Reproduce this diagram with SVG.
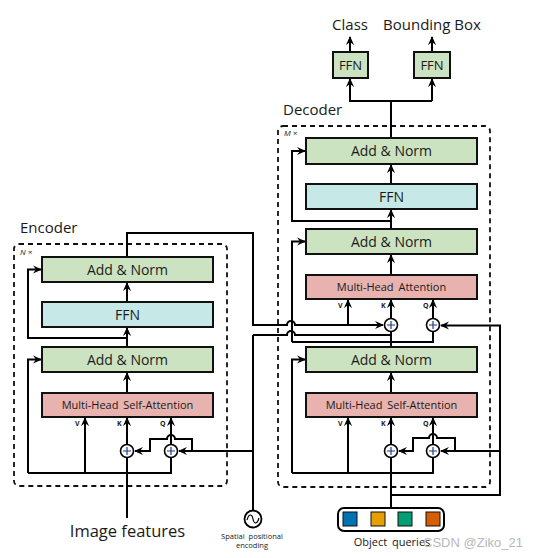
<svg xmlns="http://www.w3.org/2000/svg" width="535" height="558" viewBox="0 0 535 558">
<defs>
<marker id="ah" viewBox="0 0 10 10" refX="9" refY="5" markerWidth="9" markerHeight="9" markerUnits="userSpaceOnUse" orient="auto">
<path d="M0,0.5 L10,5 L0,9.5 L3.5,5 Z" fill="#000"/>
</marker>
<style>
text{font-family:"Open Sans","Noto Sans","DejaVu Sans",sans-serif;fill:#1a1a1a}
.box{stroke:#111;stroke-width:2}
.an{fill:#cce3c2}
.ffn{fill:#c6e9e7}
.att{fill:#e8b3ae}
.lbl{font-size:14px;text-anchor:middle}
.alb{font-size:11px;text-anchor:middle}
.ttl{font-size:15px}
.ln{fill:none;stroke:#000;stroke-width:2}
.ar{fill:none;stroke:#000;stroke-width:2;marker-end:url(#ah)}
.dash{fill:none;stroke:#111;stroke-width:1.8;stroke-dasharray:5,4}
.plus{fill:#fff;stroke:#000;stroke-width:1.6}
.pl{stroke:#1f3a8a;stroke-width:1.2}
.vkq{font-size:7px;font-weight:bold}
</style>
</defs>
<rect width="535" height="558" fill="#fff"/>

<!-- titles -->
<text class="ttl" x="20" y="233">Encoder</text>
<text class="ttl" x="283" y="115">Decoder</text>
<text class="ttl" x="350" y="30" text-anchor="middle">Class</text>
<text class="ttl" x="432" y="30" text-anchor="middle">Bounding Box</text>

<!-- dashed repeat boxes -->
<g id="encoder-frame">
<rect class="dash" x="14" y="244" width="213" height="242" rx="5"/>
<text x="20" y="255" font-size="8" font-style="italic" font-family="Liberation Serif,serif">N ×</text>
</g>
<g id="decoder-frame">
<rect class="dash" x="278" y="126" width="212" height="361" rx="5"/>
<text x="284" y="136" font-size="8" font-style="italic" font-family="Liberation Serif,serif">M ×</text>
</g>

<!-- connectors -->
<g id="connectors">
<!-- encoder -->
<path class="ln" d="M127,518 V458"/>
<path class="ar" d="M127,444 V418"/>
<path class="ln" d="M28,473 H171 V458"/>
<path class="ar" d="M85,473 V418"/>
<path class="ar" d="M28,473 V359.5 H41"/>
<path class="ar" d="M171,444 V418"/>
<path class="ln" d="M253,510 V335"/>
<path class="ar" d="M253,451 H179"/>
<path class="ar" d="M192,451 V439 H175 A4,4 0 0 0 167,439 H150 V451 H135"/>
<path class="ar" d="M127,393 V373"/>
<path class="ar" d="M127,347 V328"/>
<path class="ar" d="M127,338 H28 V269.5 H41"/>
<path class="ar" d="M127,302 V283"/>
<!-- encoder memory & pos enc to decoder -->
<path class="ar" d="M127,257 V233 H253 V325 H287 A4,4 0 0 1 295,325 H383"/>
<path class="ln" d="M253,335 H287 A4,4 0 0 1 295,335 H391 V332"/>
<!-- decoder cross attention -->
<path class="ar" d="M348,325 V300"/>
<path class="ar" d="M391,318 V300"/>
<path class="ar" d="M433,318 V300"/>
<path class="ln" d="M391,347 V335"/>
<path class="ln" d="M292,342 H433 V332"/>
<path class="ar" d="M292,342 V241.5 H305"/>
<path class="ar" d="M391,275 V255"/>
<path class="ar" d="M391,229 V210"/>
<path class="ar" d="M391,221 H292 V151 H305"/>
<path class="ar" d="M391,184 V165"/>
<path class="ln" d="M391,138 V101 H432"/>
<path class="ar" d="M432,101 V79"/>
<path class="ar" d="M391,101 H350 V79"/>
<path class="ar" d="M350,52 V37"/>
<path class="ar" d="M432,52 V37"/>
<!-- decoder self attention -->
<path class="ar" d="M391,508 V495 H500 V325.5 H441"/>
<path class="ar" d="M500,451 H441"/>
<path class="ar" d="M455,451 V438 H437 A4,4 0 0 0 429,438 H413 V451 H399"/>
<path class="ln" d="M391,495 V458"/>
<path class="ar" d="M391,444 V418"/>
<path class="ar" d="M433,444 V418"/>
<path class="ln" d="M292,473 H433 V458"/>
<path class="ar" d="M348,473 V418"/>
<path class="ar" d="M292,473 V359.5 H305"/>
<path class="ar" d="M391,393 V373"/>
</g>

<!-- encoder nodes -->
<g id="enc-addnorm-top"><rect class="box an" x="42" y="257" width="171" height="25"/><text class="lbl" x="127.5" y="274.5">Add &amp; Norm</text></g>
<g id="enc-ffn"><rect class="box ffn" x="42" y="302" width="171" height="25"/><text class="lbl" x="127.5" y="319.5">FFN</text></g>
<g id="enc-addnorm-bottom"><rect class="box an" x="42" y="347" width="171" height="25"/><text class="lbl" x="127.5" y="364.5">Add &amp; Norm</text></g>
<g id="enc-mhsa"><rect class="box att" x="42" y="393" width="171" height="24"/><text class="alb" x="127.5" y="409" word-spacing="2">Multi-Head Self-Attention</text></g>
<g id="enc-vkq">
<text class="vkq" x="75" y="426" fill="#2b3a7a">V</text>
<text class="vkq" x="117" y="426" fill="#3466a8">K</text>
<text class="vkq" x="160" y="426" fill="#7a5a3a">Q</text>
</g>
<g id="enc-plus-k"><circle class="plus" cx="127" cy="451" r="6.5"/><path class="pl" d="M123,451 H131 M127,447 V455"/></g>
<g id="enc-plus-q"><circle class="plus" cx="171" cy="451" r="6.5"/><path class="pl" d="M167,451 H175 M171,447 V455"/></g>

<!-- decoder nodes -->
<g id="dec-addnorm-top"><rect class="box an" x="306" y="138" width="171" height="26"/><text class="lbl" x="391.5" y="156">Add &amp; Norm</text></g>
<g id="dec-ffn"><rect class="box ffn" x="306" y="184" width="171" height="25"/><text class="lbl" x="391.5" y="201.5">FFN</text></g>
<g id="dec-addnorm-mid"><rect class="box an" x="306" y="229" width="171" height="25"/><text class="lbl" x="391.5" y="246.5">Add &amp; Norm</text></g>
<g id="dec-mha"><rect class="box att" x="306" y="275" width="171" height="24"/><text class="alb" x="391.5" y="291" word-spacing="2">Multi-Head Attention</text></g>
<g id="dec-addnorm-bottom"><rect class="box an" x="306" y="347" width="171" height="25"/><text class="lbl" x="391.5" y="364.5">Add &amp; Norm</text></g>
<g id="dec-mhsa"><rect class="box att" x="306" y="393" width="171" height="24"/><text class="alb" x="391.5" y="409" word-spacing="2">Multi-Head Self-Attention</text></g>
<g id="dec-vkq">
<text class="vkq" x="338" y="308" fill="#2b3a7a">V</text>
<text class="vkq" x="381" y="308" fill="#3466a8">K</text>
<text class="vkq" x="423" y="308" fill="#7a5a3a">Q</text>
<text class="vkq" x="338" y="426" fill="#2b3a7a">V</text>
<text class="vkq" x="381" y="426" fill="#3466a8">K</text>
<text class="vkq" x="423" y="426" fill="#7a5a3a">Q</text>
</g>
<g id="dec-plus-k1"><circle class="plus" cx="391" cy="325" r="6.5"/><path class="pl" d="M387,325 H395 M391,321 V329"/></g>
<g id="dec-plus-q1"><circle class="plus" cx="433" cy="325" r="6.5"/><path class="pl" d="M429,325 H437 M433,321 V329"/></g>
<g id="dec-plus-k2"><circle class="plus" cx="391" cy="451" r="6.5"/><path class="pl" d="M387,451 H395 M391,447 V455"/></g>
<g id="dec-plus-q2"><circle class="plus" cx="433" cy="451" r="6.5"/><path class="pl" d="M429,451 H437 M433,447 V455"/></g>

<!-- heads -->
<g id="ffn-class"><rect class="box an" x="333" y="52" width="35" height="26"/><text x="350.5" y="70" font-size="13" text-anchor="middle">FFN</text></g>
<g id="ffn-bbox"><rect class="box an" x="414" y="52" width="36" height="26"/><text x="432" y="70" font-size="13" text-anchor="middle">FFN</text></g>

<!-- inputs -->
<g id="image-features"><text x="127.5" y="537" font-size="16.5" text-anchor="middle">Image features</text></g>
<g id="pos-enc">
<circle cx="253" cy="519" r="8.5" fill="#fff" stroke="#000" stroke-width="1.8"/>
<path d="M247,520 C249,513 252,514 253,519 C254,524 257,525 259,518" fill="none" stroke="#000" stroke-width="1.2"/>
<text x="252" y="539" font-size="7.5" text-anchor="middle" fill="#1d2a55" word-spacing="2">Spatial positional</text>
<text x="252" y="548" font-size="7.5" text-anchor="middle" fill="#1d2a55">encoding</text>
</g>
<g id="object-queries">
<rect x="338" y="508" width="106" height="23" rx="6" fill="#fff" stroke="#000" stroke-width="2"/>
<rect x="343" y="512" width="14" height="14" fill="#0072B2" stroke="#111" stroke-width="1"/>
<rect x="371" y="512" width="14" height="14" fill="#E69F00" stroke="#111" stroke-width="1"/>
<rect x="398" y="512" width="14" height="14" fill="#009E73" stroke="#111" stroke-width="1"/>
<rect x="426" y="512" width="14" height="14" fill="#D55E00" stroke="#111" stroke-width="1"/>
<text x="392" y="546" font-size="11" text-anchor="middle" word-spacing="2">Object queries</text>
</g>
<text x="473" y="547" font-size="13" text-anchor="middle" style="fill:#b8b8b8;font-family:'Liberation Sans',sans-serif">CSDN @Ziko_21</text>
</svg>
